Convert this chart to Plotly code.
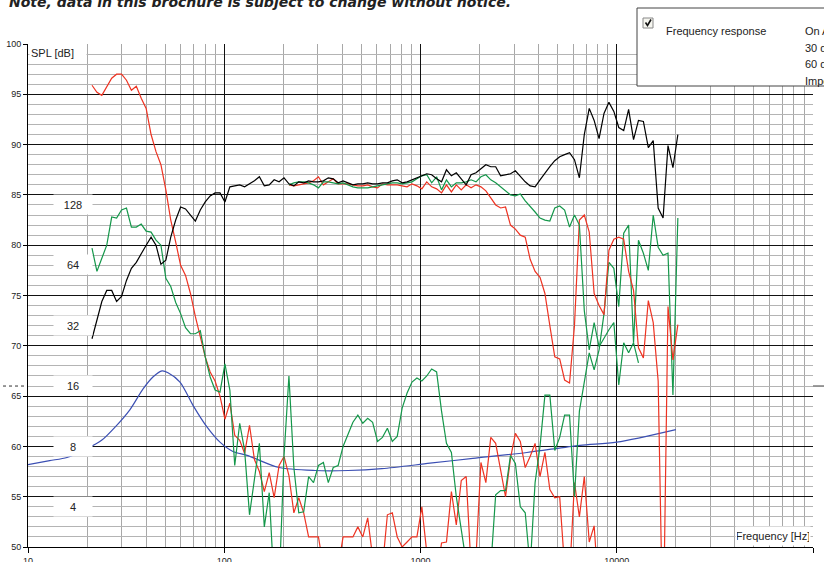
import plotly.graph_objects as go
import math

# 1/12-octave measurement frequencies (Hz)
freq = [21.19, 22.45, 23.78, 25.20, 26.70, 28.28, 29.97, 31.75, 33.64, 35.64, 37.75, 40.0,
        42.38, 44.90, 47.57, 50.40, 53.39, 56.57, 59.93, 63.50, 67.27, 71.27, 75.51, 80.0,
        84.76, 89.80, 95.14, 100.8, 106.8, 113.1, 119.9, 127.0, 134.5, 142.5, 151.0, 160.0,
        169.5, 179.6, 190.3, 201.6, 213.6, 226.3, 239.7, 254.0, 269.1, 285.1, 302.0, 320.0,
        339.0, 359.2, 380.5, 403.2, 427.1, 452.5, 479.5, 508.0, 538.2, 570.2, 604.1, 640.0,
        678.1, 718.4, 761.1, 806.3, 854.3, 905.1, 958.9, 1016, 1076, 1140, 1208, 1280,
        1356, 1437, 1522, 1613, 1709, 1810, 1918, 2032, 2153, 2281, 2416, 2560,
        2712, 2874, 3044, 3225, 3417, 3620, 3836, 4064, 4305, 4561, 4833, 5120,
        5424, 5747, 6089, 6451, 6834, 7241, 7671, 8127, 8611, 9123, 9665, 10240,
        10849, 11494, 12177, 12902, 13669, 14482, 15343, 16255, 17222, 18246, 19331, 20480]

on_axis = [70.7, 72.6, 74.4, 75.5, 75.5, 74.4, 74.9, 76.5, 77.7, 78.3,
           79.2, 80.0, 80.8, 80.0, 78.1, 78.5, 80.8, 82.5, 83.8, 83.6,
           83.0, 82.4, 83.5, 84.3, 84.9, 85.2, 85.2, 84.3, 85.8, 85.9,
           86.0, 85.8, 86.1, 86.4, 86.8, 85.9, 86.0, 86.5, 86.3, 86.7,
           86.1, 85.9, 86.3, 86.2, 86.4, 86.3, 86.3, 86.4, 86.7, 86.6,
           86.2, 86.4, 86.2, 86.0, 86.1, 86.1, 86.2, 86.1, 86.1, 86.2,
           86.2, 86.4, 86.5, 86.2, 86.3, 86.5, 86.7, 86.9, 87.1, 87.0,
           86.6, 86.3, 87.5, 86.9, 87.2, 86.6, 86.0, 87.0, 87.2, 87.6,
           88.0, 87.8, 87.8, 86.9, 87.0, 87.1, 87.4, 86.8, 86.3, 85.9,
           85.8, 86.5, 87.2, 87.8, 88.4, 88.8, 89.0, 89.2, 88.5, 86.7,
           91.0, 93.6, 92.4, 90.6, 93.1, 94.2, 93.3, 91.7, 91.4, 93.5,
           90.5, 92.4, 92.3, 89.7, 90.4, 83.7, 82.7, 89.9, 87.7, 91.0]

# 30 deg response, from freq[40]
deg30 = [86.0, 86.2, 86.3, 86.3, 86.2, 86.0, 85.7, 86.3, 86.3, 86.2,
         86.1, 86.2, 86.0, 85.8, 85.7, 85.7, 85.7, 85.8, 85.9, 86.0,
         86.1, 86.2, 86.2, 86.1, 86.2, 86.3, 86.6, 86.9, 87.0, 86.2,
         86.8, 85.5, 86.5, 85.8, 86.2, 86.2, 86.3, 86.5, 86.3, 86.8,
         87.0, 86.5, 86.2, 85.8, 85.4, 85.0, 84.9, 85.1, 84.4, 83.9,
         83.3, 82.7, 82.5, 82.4, 83.7, 83.9, 83.5, 81.8, 83.0, 82.0,
         73.5, 69.6, 72.3, 69.9, 70.8, 71.6, 72.3, 66.1, 70.3, 69.3, 70.3, 68.3]

# 60 deg response, from freq[40]
deg60 = [86.0, 85.9, 86.0, 86.1, 86.2, 86.4, 86.8, 86.0, 86.3, 86.6,
         86.1, 86.1, 86.1, 86.0, 85.9, 85.9, 86.0, 85.8, 85.7, 86.1,
         86.0, 86.0, 86.0, 85.9, 85.8, 86.1, 85.9, 85.6, 86.3, 85.8,
         85.6, 85.2, 86.0, 85.3, 86.0, 85.5, 86.0, 85.7, 86.0, 85.8,
         85.4, 84.7, 84.0, 83.7, 83.8, 82.0, 81.6, 81.0, 80.8, 78.6,
         77.4, 76.8, 75.2, 72.0, 68.9, 68.7, 66.6, 66.3, 72.0, 82.5,
         83.0, 81.3, 75.2, 74.0, 73.1, 79.5, 80.6, 80.8, 80.6, 77.4,
         75.5, 69.8, 68.8, 74.5, 72.3, 66.5, 40.0, 73.9, 68.6, 72.1]

# second green curve, from freq[0]
green_lower = [79.7, 77.4, 78.7, 80.0, 82.8, 82.7, 83.5, 83.7, 81.8, 81.8,
               82.1, 81.4, 81.3, 80.5, 80.0, 76.7, 75.9, 74.3, 73.2, 71.8,
               71.2, 71.2, 71.5, 68.9, 66.9, 65.6, 65.4, 68.2, 65.6, 58.1,
               62.3, 59.6, 53.2, 56.6, 60.3, 52.0, 55.4, 46.0, 46.0, 59.0,
               67.0, 57.9, 53.4, 53.5, 57.0, 56.4, 58.1, 58.4, 56.4, 57.9,
               58.1, 60.0, 61.3, 62.4, 63.1, 62.3, 62.8, 62.4, 60.5, 60.9,
               61.8, 60.5, 61.0, 63.8, 65.3, 66.4, 66.8, 66.5, 67.0, 67.7,
               67.4, 63.5, 60.3, 59.4, 55.0, 51.5, 48.5, 46.0, 46.0, 46.0,
               46.0, 48.0, 55.2, 55.6, 55.6, 59.1, 58.3, 54.0, 53.4, 48.0,
               56.4, 60.0, 65.1, 65.1, 59.6, 60.9, 63.1, 63.1, 55.0, 63.5,
               66.5, 69.3, 67.6, 69.6, 73.2, 78.3, 77.7, 73.9, 81.2, 82.0,
               70.3, 80.5, 79.2, 77.5, 83.0, 79.8, 79.0, 79.2, 65.1, 82.7]

# second red curve, from freq[0]
red_lower = [95.9, 95.2, 94.9, 95.8, 96.6, 97.0, 97.0, 96.4, 95.4, 95.8,
             94.6, 93.6, 91.0, 89.3, 88.0, 85.5, 82.5, 80.3, 78.0, 77.0,
             75.2, 72.9, 70.9, 68.9, 67.4, 66.5, 65.0, 62.7, 64.3, 61.1,
             60.6, 59.3, 62.1, 58.7, 57.5, 55.5, 57.4, 54.9, 58.1, 59.0,
             57.1, 53.4, 54.9, 53.4, 51.0, 51.0, 51.0, 48.0, 47.0, 47.0,
             48.0, 51.0, 51.0, 51.0, 52.0, 51.0, 52.9, 49.0, 47.0, 48.0,
             53.2, 53.4, 51.0, 50.0, 50.5, 51.0, 51.0, 54.0, 49.5, 48.0,
             47.0, 50.4, 50.5, 55.5, 52.2, 56.6, 57.0, 48.0, 49.0, 58.4,
             56.4, 60.9, 60.3, 57.5, 55.0, 58.8, 61.3, 60.5, 57.9, 59.0,
             60.3, 57.0, 59.4, 55.7, 54.9, 55.0, 48.0, 47.0, 56.4, 53.0,
             57.0, 50.5, 52.1, 45.0]

imp_freq = [10, 12.9, 15.8, 20, 23.8, 27.7, 33.1, 38.5, 43.3, 48.2, 51.7, 59.5, 69.3,
            81.6, 95.1, 110.7, 132, 187.8, 290, 427, 636, 1117, 1849, 3484, 6486, 10000, 20000]
imp_ohm = [6.5, 6.8, 7.05, 7.8, 8.6, 9.95, 12.2, 15.4, 17.7, 19.0, 18.6, 16.7, 12.8,
           10.0, 8.4, 7.55, 7.2, 6.3, 6.07, 6.07, 6.2, 6.6, 6.97, 7.46, 8.1, 8.4, 9.7]

imp_labels = [128, 64, 32, 16, 8, 4]
x_ticks = [10, 100, 1000, 10000, 100000]
y_ticks = [50, 55, 60, 65, 70, 75, 80, 85, 90, 95, 100]

legend_items = ["On Axis", "30 deg", "60 deg", "Impedance"]

# impedance (ohm) -> dB scale of the plot: 8 ohm at 60 dB, 6.02 dB per doubling
def ohm_to_db(z):
    return 60 + 20 * math.log10(z / 8)

RED = "#ee3322"
GREEN = "#14974a"
BLUE = "#3b4fb3"

fig = go.Figure()
lw = 1.2
fig.add_trace(go.Scatter(x=imp_freq, y=[ohm_to_db(z) for z in imp_ohm], mode="lines",
                         line=dict(color=BLUE, width=lw, shape="spline", smoothing=0.8)))
fig.add_trace(go.Scatter(x=freq[:len(red_lower)], y=red_lower, mode="lines",
                         line=dict(color=RED, width=lw)))
fig.add_trace(go.Scatter(x=freq[:len(green_lower)], y=green_lower, mode="lines",
                         line=dict(color=GREEN, width=lw)))
fig.add_trace(go.Scatter(x=freq[40:40 + len(deg60)], y=deg60, mode="lines",
                         line=dict(color=RED, width=lw)))
fig.add_trace(go.Scatter(x=freq[40:40 + len(deg30)], y=deg30, mode="lines",
                         line=dict(color=GREEN, width=lw)))
fig.add_trace(go.Scatter(x=freq, y=on_axis, mode="lines",
                         line=dict(color="#000000", width=lw)))

minor_x = [m * 10 ** e for e in range(1, 5) for m in range(2, 10)]

fig.update_layout(
    width=824, height=562,
    margin=dict(l=28, r=11, t=44, b=15),
    paper_bgcolor="white", plot_bgcolor="white",
    showlegend=False,
    font=dict(family="Liberation Sans, Arial, sans-serif", size=9, color="#222"),
    xaxis=dict(type="log", range=[1, 5], tickvals=x_ticks, ticktext=[str(v) for v in x_ticks],
               automargin=False,
               showgrid=True, gridcolor="#111", gridwidth=1,
               showline=True, linecolor="#000", linewidth=1,
               ticks="outside", ticklen=5, tickcolor="#000", zeroline=False,
               minor=dict(tickmode="array", tickvals=minor_x, showgrid=True,
                          gridcolor="#a8a8a8", gridwidth=1, ticks="")),
    yaxis=dict(range=[50, 100], tickvals=y_ticks, automargin=False,
               showgrid=True, gridcolor="#111", gridwidth=1,
               showline=True, linecolor="#000", linewidth=1,
               ticks="outside", ticklen=4, tickcolor="#000", zeroline=False,
               minor=dict(dtick=1, showgrid=True, gridcolor="#b4b4b4", gridwidth=1, ticks="")),
)

def px_x(p):
    return (p - 28) / 785.0

def px_y(p):
    return (547 - p) / 503.0

anns = []
# impedance scale labels
for z in imp_labels:
    anns.append(dict(x=px_x(53), xref="paper", y=ohm_to_db(z), yref="y", text=str(z),
                     showarrow=False, bgcolor="white", width=36, height=17,
                     font=dict(size=11, color="#222", family="Liberation Sans")))
# axis titles in boxes
anns.append(dict(x=px_x(29), xref="paper", xanchor="left", y=1, yref="paper", yanchor="top",
                 text="SPL [dB]", showarrow=False, bgcolor="white", width=54, height=14,
                 align="left", font=dict(size=11, color="#222", family="Liberation Sans")))
anns.append(dict(x=px_x(811), xref="paper", xanchor="right", y=px_y(546), yref="paper",
                 yanchor="bottom", text="Frequency [Hz]", showarrow=False, bgcolor="white",
                 width=72, height=16, font=dict(size=11, color="#222", family="Liberation Sans")))
# title note (top is cut by the page edge, as in the original)
anns.append(dict(x=px_x(7), xref="paper", xanchor="left", y=px_y(2), yref="paper",
                 yanchor="middle", text="Note, data in this brochure is subject to change without notice.",
                 showarrow=False,
                 font=dict(size=14, color="#222", family="DejaVu Sans", style="italic", weight="bold")))
# legend texts
anns.append(dict(x=px_x(664), xref="paper", xanchor="left", y=px_y(23), yref="paper",
                 text="Frequency response", showarrow=False,
                 font=dict(size=11, color="#222", family="Liberation Sans")))
for t, yy in zip(legend_items, [23, 40, 56, 73]):
    anns.append(dict(x=px_x(803), xref="paper", xanchor="left", y=px_y(yy), yref="paper",
                     text=t, showarrow=False,
                     font=dict(size=11, color="#222", family="Liberation Sans")))
fig.update_layout(annotations=anns)

# check mark inside the checkbox (paper coordinates)
cx0, cy0 = px_x(645.5), px_y(22.5)
cx1, cy1 = px_x(647.5), px_y(25.5)
cx2, cy2 = px_x(651), px_y(19.5)
check_path = f"M {cx0} {cy0} L {cx1} {cy1} L {cx2} {cy2}"

shapes = [
    dict(type="rect", xref="paper", yref="paper", x0=px_x(637), x1=px_x(840),
         y0=px_y(86), y1=px_y(8), fillcolor="white", line=dict(color="#444", width=1), layer="above"),
    dict(type="rect", xref="paper", yref="paper", x0=px_x(643), x1=px_x(653),
         y0=px_y(28), y1=px_y(18), fillcolor="#f6f6f0", line=dict(color="#888", width=1), layer="above"),
    dict(type="path", xref="paper", yref="paper", path=check_path,
         line=dict(color="#111", width=1.6), layer="above"),
    dict(type="line", xref="paper", yref="y", x0=px_x(3), x1=px_x(27), y0=66, y1=66,
         line=dict(color="#333", width=1, dash="dot")),
    dict(type="line", xref="paper", yref="y", x0=px_x(813), x1=px_x(830), y0=66, y1=66,
         line=dict(color="#333", width=1)),
]
fig.update_layout(shapes=shapes)

fig.write_html("out.html", config={"displayModeBar": False},
               post_script="document.body.style.margin='0px';document.body.style.overflow='hidden';")
